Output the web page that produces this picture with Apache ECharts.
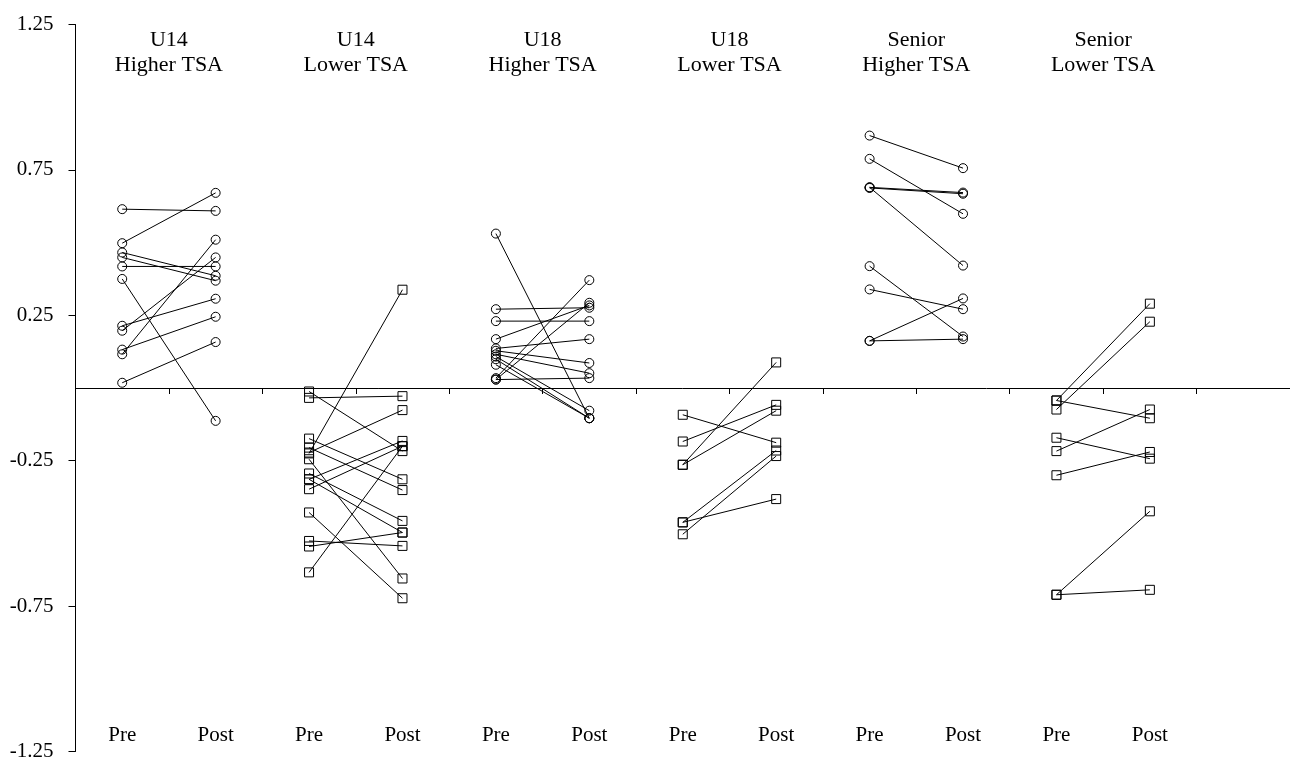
<!DOCTYPE html>
<html>
<head>
<meta charset="utf-8">
<script src="https://cdn.jsdelivr.net/npm/echarts@6/dist/echarts.min.js"></script>
<style>
html,body{margin:0;padding:0;background:#fff;}
#chart{width:1290px;height:762px;}
</style>
</head>
<body>
<div id="chart"></div>
<script>
// ---- Data ----
const groupTitles = ['U14\nHigher TSA', 'U14\nLower TSA', 'U18\nHigher TSA', 'U18\nLower TSA', 'Senior\nHigher TSA', 'Senior\nLower TSA'];
const phaseLabels = ['Pre', 'Post'];
const yTicks = [-1.25, -0.75, -0.25, 0.25, 0.75, 1.25];
const groupSymbols = ['circle', 'rect', 'circle', 'rect', 'circle', 'rect'];

const u14HigherPre  = [0.615, 0.498, 0.466, 0.449, 0.418, 0.375, 0.214, 0.197, 0.132, 0.116, 0.018];
const u14HigherPost = [0.609, 0.671, 0.386, 0.369, 0.418, -0.113, 0.307, 0.449, 0.245, 0.510, 0.158];

const u14LowerPre  = [-0.012, -0.034, -0.174, -0.205, -0.222, -0.225, -0.245, -0.294, -0.314, -0.314, -0.348, -0.428, -0.526, -0.545, -0.634];
const u14LowerPost = [-0.217, -0.028, -0.314, -0.351, -0.076, 0.338, -0.655, -0.457, -0.182, -0.497, -0.200, -0.723, -0.543, -0.497, -0.200];

const u18HigherPre  = [0.531, 0.271, 0.230, 0.168, 0.136, 0.128, 0.116, 0.108, 0.099, 0.080, 0.034, 0.029, 0.029];
const u18HigherPost = [-0.104, 0.276, 0.230, 0.284, 0.168, 0.086, 0.051, -0.078, -0.104, -0.104, 0.371, 0.293, 0.034];

const u18LowerPre  = [-0.092, -0.184, -0.264, -0.264, -0.462, -0.462, -0.503];
const u18LowerPost = [-0.188, -0.058, 0.088, -0.078, -0.215, -0.382, -0.234];

const seniorHigherPre  = [0.868, 0.788, 0.690, 0.688, 0.690, 0.419, 0.339, 0.162, 0.162];
const seniorHigherPost = [0.756, 0.599, 0.672, 0.668, 0.421, 0.177, 0.271, 0.308, 0.168];

const seniorLowerPre  = [-0.043, -0.043, -0.074, -0.171, -0.217, -0.300, -0.711, -0.711];
const seniorLowerPost = [0.290, -0.104, 0.228, -0.243, -0.074, -0.220, -0.424, -0.694];

const groupsPre  = [u14HigherPre, u14LowerPre, u18HigherPre, u18LowerPre, seniorHigherPre, seniorLowerPre];
const groupsPost = [u14HigherPost, u14LowerPost, u18HigherPost, u18LowerPost, seniorHigherPost, seniorLowerPost];

// ---- Build series ----
const series = [];
groupsPre.forEach((pre, g) => {
  const post = groupsPost[g];
  pre.forEach((v, i) => {
    series.push({
      type: 'line',
      xAxisIndex: 0,
      yAxisIndex: 0,
      data: [[2 * g + 0.5, v], [2 * g + 1.5, post[i]]],
      symbol: groupSymbols[g],
      symbolSize: 9,
      showSymbol: true,
      silent: true,
      animation: false,
      lineStyle: { color: '#000', width: 1 },
      itemStyle: { color: 'rgba(255,255,255,0)', borderColor: '#000', borderWidth: 1 },
      emphasis: { disabled: true }
    });
  });
});

const titleValues = groupTitles.map((t, g) => 2 * g + 1);
const phaseValues = [];
for (let k = 0; k < groupTitles.length * 2; k++) phaseValues.push(k + 0.5);
const bandTicks = [];
for (let k = 1; k <= 12; k++) bandTicks.push(k);

const FONT = 'Liberation Serif';
const gridBox = { left: 75.5, top: 24.5, width: 1219.4, height: 727 };

const chart = echarts.init(document.getElementById('chart'), null, { renderer: 'canvas' });
chart.setOption({
  animation: false,
  backgroundColor: '#fff',
  textStyle: { fontFamily: FONT, color: '#000' },
  grid: [Object.assign({}, gridBox), Object.assign({}, gridBox)],
  xAxis: [
    {
      type: 'value', gridIndex: 0, min: 0, max: 13, position: 'bottom',
      axisLine: { show: true, onZero: true, lineStyle: { color: '#000', width: 1 } },
      axisTick: { show: true, length: 6, lineStyle: { color: '#000' }, customValues: bandTicks },
      axisLabel: { show: false },
      splitLine: { show: false }
    },
    {
      type: 'value', gridIndex: 1, min: 0, max: 13, position: 'top',
      axisLine: { show: false, onZero: false },
      axisTick: { show: false },
      axisLabel: {
        show: true, inside: true, margin: 3, customValues: titleValues,
        fontFamily: FONT, fontSize: 22, color: '#000', lineHeight: 25, align: 'center',
        formatter: (v) => groupTitles[Math.round((v - 1) / 2)]
      },
      splitLine: { show: false }
    },
    {
      type: 'value', gridIndex: 1, min: 0, max: 13, position: 'bottom',
      axisLine: { show: false, onZero: false },
      axisTick: { show: false },
      axisLabel: {
        show: true, inside: true, margin: 6, customValues: phaseValues,
        fontFamily: FONT, fontSize: 21, color: '#000',
        formatter: (v) => phaseLabels[Math.floor(v) % 2]
      },
      splitLine: { show: false }
    }
  ],
  yAxis: [
    {
      type: 'value', gridIndex: 0, min: -1.25, max: 1.25,
      axisLine: { show: true, onZero: false, lineStyle: { color: '#000', width: 1 } },
      axisTick: { show: true, length: 7, lineStyle: { color: '#000' }, customValues: yTicks },
      axisLabel: {
        show: true, margin: 22, customValues: yTicks,
        fontFamily: FONT, fontSize: 21, color: '#000',
        formatter: (v) => v.toFixed(2)
      },
      splitLine: { show: false }
    },
    {
      type: 'value', gridIndex: 1, min: -1.25, max: 1.25, show: false
    }
  ],
  series: series
});
</script>
</body>
</html>
